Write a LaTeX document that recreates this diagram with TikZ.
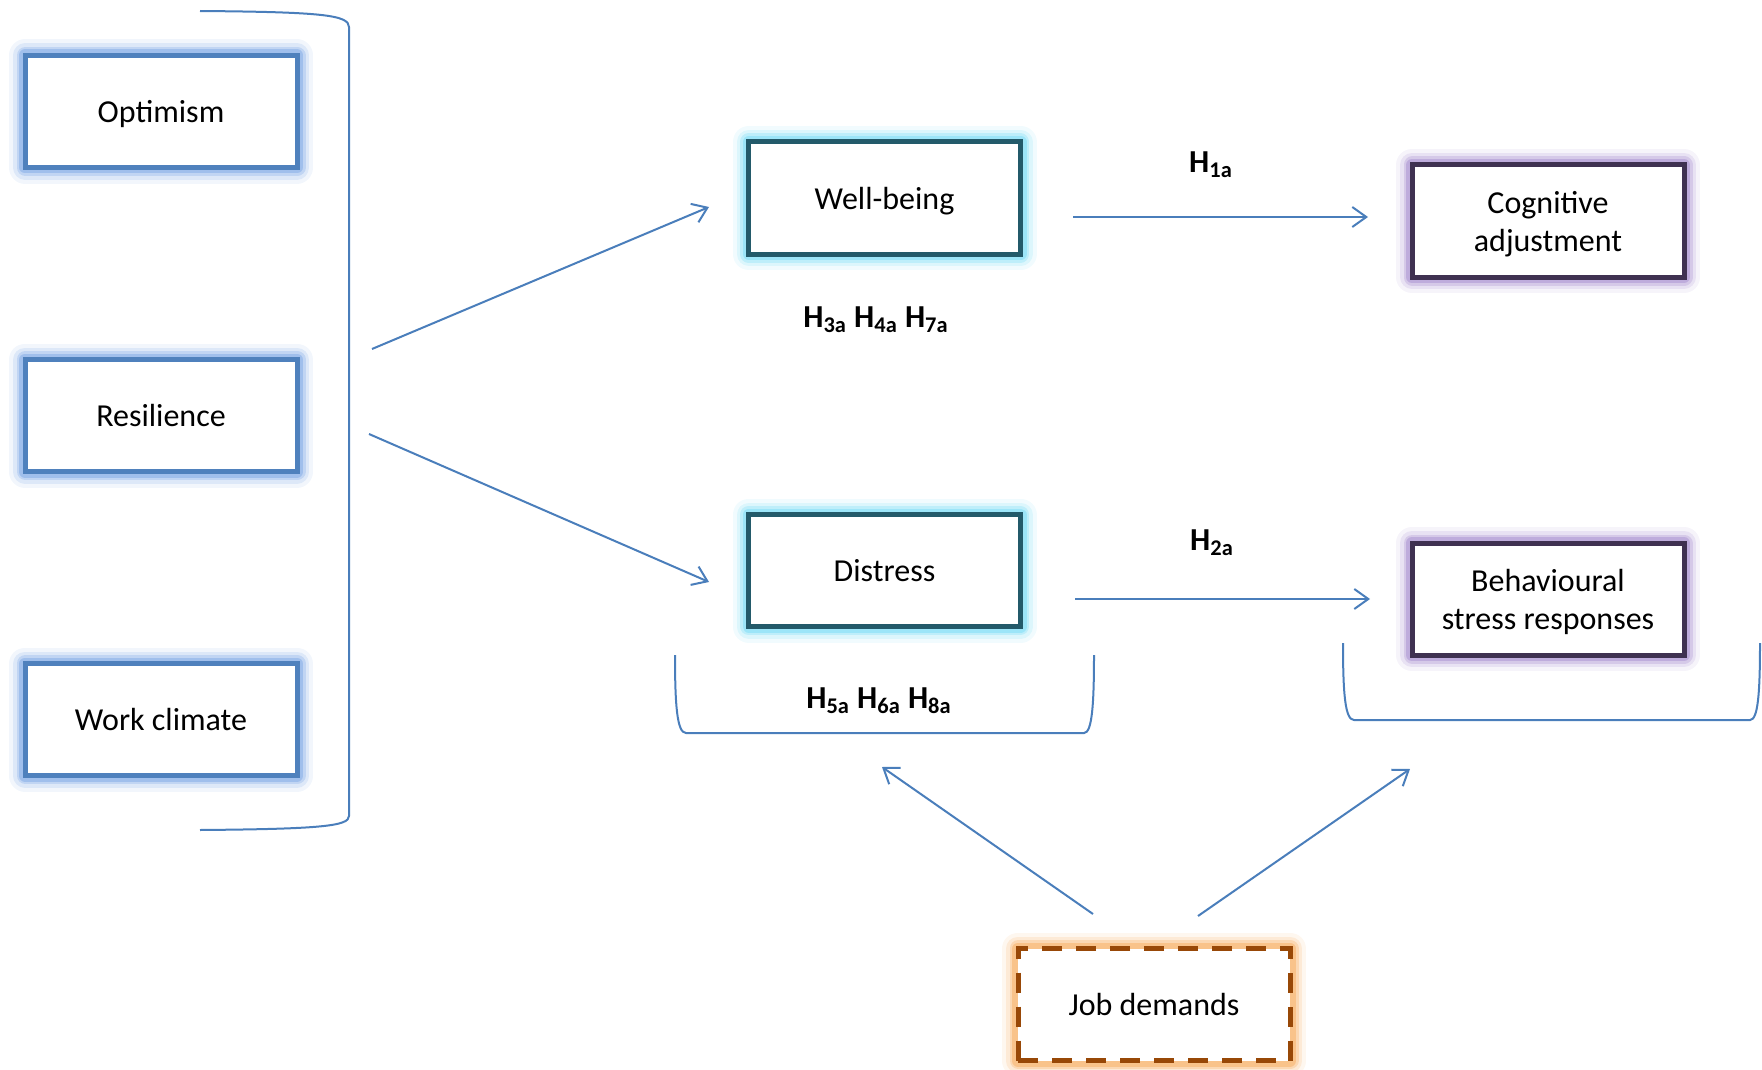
\documentclass[tikz,border=0pt]{standalone}
\usepackage{fontspec}
\setmainfont{Carlito}
\usepackage{tikz}
\usetikzlibrary{arrows.meta}
\definecolor{link}    {HTML}{4A7EBB}
\definecolor{predline}{HTML}{4F81BD}
\definecolor{predglow}{HTML}{7FA9E6}
\definecolor{medline} {HTML}{235A6A}
\definecolor{medglow} {HTML}{7ADCF5}
\definecolor{outline} {HTML}{3F3151}
\definecolor{outglow} {HTML}{A88FD0}
\definecolor{jobline} {HTML}{984807}
\definecolor{jobglow} {HTML}{F7AE62}
\tikzset{
  every node/.style={font=\fontsize{16}{19}\selectfont},
  % --- nodes
  glow/.style  = {preaction={draw=#1, solid, line width=16pt, opacity=.10, line join=round},
                  preaction={draw=#1, solid, line width=12pt, opacity=.18, line join=round},
                  preaction={draw=#1, solid, line width=8.5pt, opacity=.3, line join=round},
                  preaction={draw=#1, solid, line width=6pt, opacity=.5, line join=round}},
  box/.style   = {draw, fill=white, line width=2.5pt, align=center, inner sep=2pt,
                  text depth=0pt, minimum width=136pt, minimum height=56pt},
  pred/.style  = {box, draw=predline, glow=predglow},
  med/.style   = {box, draw=medline, glow=medglow},
  outc/.style  = {box, draw=outline, glow=outglow},
  job/.style   = {box, draw=jobline, glow=jobglow, dash pattern=on 10pt off 7pt},
  hyp/.style   = {font=\fontsize{16}{19}\selectfont\bfseries},
  % --- edges
  e/.style     = {-{Straight Barb[length=7pt,width=10pt]}, line width=1pt, draw=link},
  brace/.style = {line width=1pt, draw=link},
}
\begin{document}
\begin{tikzpicture}[x=0.5pt,y=-0.5pt]
  \useasboundingbox (0,0) rectangle (1762,1070);
  % predictors
  \node[pred] (opt) at (161,111.5) {Optimism};
  \node[pred] (res) at (161,415.5) {Resilience};
  \node[pred] (wcl) at (161,719.5) {Work climate};
  \draw[brace] (200,11) .. controls (322,12) and (349,15) .. (349,27)
    -- (349,816) .. controls (349,826) and (322,829) .. (200,830);
  % mediators
  \node[med] (wb)  at (884.5,198)   {Well-being};
  \node[med] (dis) at (884.5,570.5) {Distress};
  \node[hyp] (h347) at (876,320) {H\textsubscript{3a} H\textsubscript{4a} H\textsubscript{7a}};
  % outcomes
  \node[outc] (cog) at (1548,221) {Cognitive\\adjustment};
  \node[outc] (beh) at (1548,599) {Behavioural\\stress responses};
  \node[hyp] (h1) at (1211,165) {H\textsubscript{1a}};
  \node[hyp] (h2) at (1212,543) {H\textsubscript{2a}};
  % moderator
  \node[job] (jd) at (1154,1004.5) {Job demands};
  \draw[brace] (675,655) .. controls (675,705) and (677,733) .. (686,733)
    -- (1084,733) .. controls (1092,733) and (1094,705) .. (1094,655);
  \node[hyp] (h568) at (879,701) {H\textsubscript{5a} H\textsubscript{6a} H\textsubscript{8a}};
  \draw[brace] (1343,643) .. controls (1343,693) and (1345,720) .. (1354,720)
    -- (1750,720) .. controls (1758,720) and (1760,693) .. (1760,643);
  % arrow ends
  \coordinate (predtop) at (372,349);
  \coordinate (predbot) at (369,434);
  \coordinate (wbin)    at (709,207);
  \coordinate (disin)   at (709,582);
  \coordinate (wbout)   at (1073,217);
  \coordinate (cogin)   at (1368,217);
  \coordinate (disout)  at (1075,599);
  \coordinate (behin)   at (1370,599);
  \coordinate (jdl)     at (1093,914);
  \coordinate (jdr)     at (1198,916);
  \coordinate (medmod)  at (882,767);
  \coordinate (outmod)  at (1410,769);
  \draw[e] (predtop) -- (wbin);
  \draw[e] (predbot) -- (disin);
  \draw[e] (wbout) -- (cogin);
  \draw[e] (disout) -- (behin);
  \draw[e] (jdl) -- (medmod);
  \draw[e] (jdr) -- (outmod);
\end{tikzpicture}
\end{document}
